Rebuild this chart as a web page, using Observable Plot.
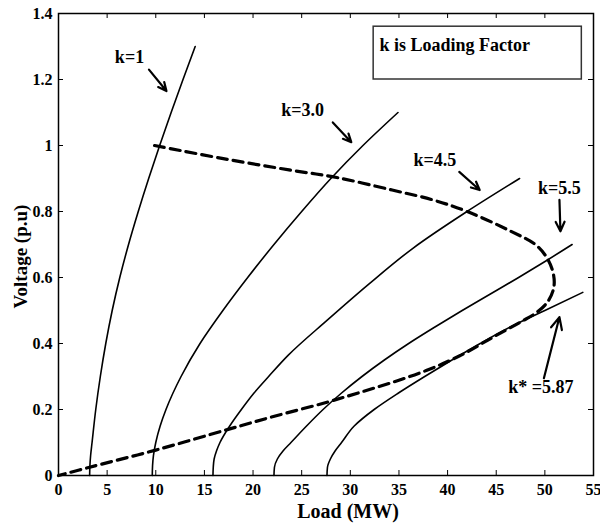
<!DOCTYPE html>
<html><head><meta charset="utf-8">
<script src="https://cdn.jsdelivr.net/npm/d3@7"></script>
<script src="https://cdn.jsdelivr.net/npm/@observablehq/plot@0.6"></script>
<style>body{margin:0;background:#fff}</style>
</head><body><div id="chart"></div>
<script>
// Load (MW), Voltage (p.u) pairs
const curveK1 = [[3.2,0],[3.23,0.03],[3.3,0.06],[3.45,0.1],[3.83,0.2],[4.3,0.3],[4.86,0.4],[5.52,0.5],[6.3,0.6],[7.2,0.7],[8.2,0.8],[9.27,0.9],[10.4,1.0],[11.58,1.1],[12.8,1.2],[14.05,1.3]];
const curveK3 = [[9.64,0],[9.67,0.03],[9.76,0.06],[10.0,0.1],[10.45,0.15],[11.05,0.2],[12.6,0.3],[14.55,0.4],[16.9,0.5],[19.45,0.6],[22.15,0.7],[25.0,0.8],[28.0,0.9],[31.3,1.0],[34.9,1.1]];
const curveK45 = [[15.88,0],[15.91,0.025],[16.0,0.05],[16.25,0.075],[16.6,0.1],[17.6,0.15],[18.8,0.2],[20.1,0.25],[21.6,0.3],[23.6,0.364],[27.6,0.47],[31.9,0.58],[36.5,0.69],[42.0,0.8],[47.4,0.9]];
const curveK55 = [[22.15,0],[22.2,0.025],[22.5,0.05],[23.1,0.075],[23.9,0.1],[25.5,0.15],[27.2,0.2],[29.1,0.25],[31.2,0.3],[33.5,0.35],[36.0,0.4],[38.7,0.45],[41.5,0.5],[44.4,0.55],[47.3,0.6],[50.1,0.65],[52.8,0.7]];
const curveK587 = [[27.6,0],[27.65,0.025],[27.95,0.05],[28.45,0.075],[29.1,0.1],[30.4,0.15],[32.45,0.2],[34.95,0.25],[37.65,0.3],[40.45,0.35],[43.35,0.4],[46.45,0.45],[50.0,0.5],[53.9,0.555]];
const criticalPath = [[9.88,1.0],[16.8,0.961],[23.7,0.926],[28.6,0.903],[34.3,0.865],[38.5,0.835],[42.0,0.80],[46.3,0.743],[49.1,0.698],[50.3,0.655],[50.9,0.607],[50.9,0.567],[50.3,0.527],[49.2,0.495],[47.5,0.465],[44.6,0.418],[41.2,0.362],[37.8,0.318],[34.3,0.282],[30.9,0.251],[27.6,0.222],[22.0,0.178],[17.7,0.142],[10.0,0.077],[3.2,0.025],[0,0]];

const labelText = ["k=1","k=3.0","k=4.5","k=5.5","k* =5.87"];
const labelX = [7.3, 25.1, 38.7, 51.5, 49.6];
const labelY = [1.266, 1.108, 0.956, 0.871, 0.267];
const arrowX1 = [9.3, 28.2, 41.2, 51.5, 49.9];
const arrowY1 = [1.23, 1.07, 0.92, 0.835, 0.295];
const arrowX2 = [11.1, 30.1, 43.3, 51.6, 51.5];
const arrowY2 = [1.165, 1.01, 0.865, 0.74, 0.48];

const legendText = ["k is Loading Factor"];
const legendBox = {x1: 32.4, x2: 53.8, y1: 1.20, y2: 1.36, tx: 33.0, ty: 1.303};

const xTicks = [0,5,10,15,20,25,30,35,40,45,50,55];
const yTicks = [0,0.2,0.4,0.6,0.8,1.0,1.2,1.4];
const xTitle = "Load (MW)";
const yTitle = "Voltage (p.u)";

const curves = [curveK1, curveK3, curveK45, curveK55, curveK587];
const toPts = a => a.map(([x,y]) => ({x, y}));
const ann = labelText.map((t,i) => ({t, x: labelX[i], y: labelY[i], x1: arrowX1[i], y1: arrowY1[i], x2: arrowX2[i], y2: arrowY2[i]}));
const fmt = d => String(+d.toFixed(1));

const chart = Plot.plot({
  width: 600, height: 532,
  marginLeft: 58, marginRight: 7, marginTop: 13, marginBottom: 57,
  style: {fontFamily: "'Liberation Serif', serif", fontSize: "16px", fontWeight: "bold", color: "black", background: "white"},
  x: {domain: [0, 55]},
  y: {domain: [0, 1.4]},
  marks: [
    Plot.rect([legendBox], {x1: "x1", x2: "x2", y1: "y1", y2: "y2", fill: "white", stroke: "#333", strokeWidth: 1.5}),
    Plot.text(legendText, {x: legendBox.tx, y: legendBox.ty, text: d => d, textAnchor: "start", fontSize: 18, fontWeight: "bold"}),
    ...curves.map(c => Plot.line(toPts(c), {x: "x", y: "y", stroke: "black", strokeWidth: 1.6, curve: "monotone-y"})),
    Plot.line(toPts(criticalPath), {x: "x", y: "y", stroke: "black", strokeWidth: 3.2, strokeDasharray: "10,6", curve: "catmull-rom"}),
    Plot.arrow(ann, {x1: "x1", y1: "y1", x2: "x2", y2: "y2", stroke: "black", strokeWidth: 2.2, headLength: 9, headAngle: 50}),
    Plot.text(ann, {x: "x", y: "y", text: "t", fontSize: 18, fontWeight: "bold"}),
    Plot.frame({stroke: "black", strokeWidth: 1.5}),
    Plot.tickX(xTicks, {x: d => d, insetTop: 457, stroke: "black"}),
    Plot.tickX(xTicks, {x: d => d, insetBottom: 457, stroke: "black"}),
    Plot.tickY(yTicks, {y: d => d, insetRight: 530, stroke: "black"}),
    Plot.tickY(yTicks, {y: d => d, insetLeft: 530, stroke: "black"}),
    Plot.axisX({ticks: xTicks, tickSize: 0, tickPadding: 8, label: null, tickFormat: fmt}),
    Plot.axisY({ticks: yTicks, tickSize: 0, tickPadding: 6, label: null, tickFormat: fmt}),
    Plot.text([xTitle], {frameAnchor: "bottom", dy: 42, dx: 22, fontSize: 20, fontWeight: "bold"}),
    Plot.text([yTitle], {frameAnchor: "left", textAnchor: "middle", rotate: -90, dx: -38, dy: 12, fontSize: 19, fontWeight: "bold"})
  ]
});
document.getElementById("chart").appendChild(chart);
</script>
</body></html>
